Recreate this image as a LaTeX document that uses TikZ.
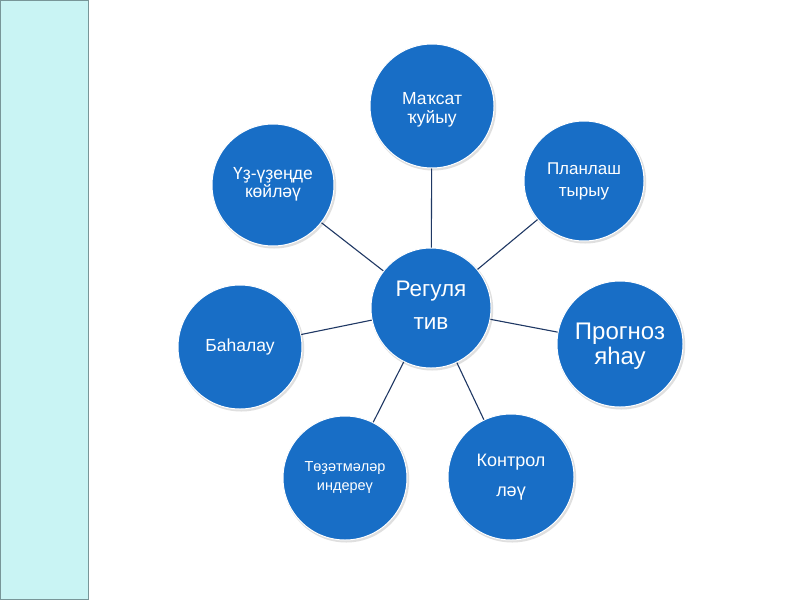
\documentclass[tikz,border=0pt]{standalone}
\usepackage{fontspec}
\setmainfont{Liberation Sans}
\definecolor{bubble}{RGB}{24,110,198}
\definecolor{link}{RGB}{31,56,100}
\definecolor{strip}{RGB}{201,244,244}
\definecolor{stripedge}{RGB}{120,150,152}
\tikzset{
  bub/.style={circle, fill=bubble, draw=white, line width=1pt, inner sep=0pt, minimum size=#1},
  bub/.default=124pt,
  lbl/.style={text=white, align=center, inner sep=0pt},
  conn/.style={draw=link, line width=1.1pt},
}
\newcommand{\fsz}[2]{\fontsize{#1}{#2}\selectfont}
\begin{document}
\begin{tikzpicture}[x=1pt,y=-1pt]
\useasboundingbox (0,0) rectangle (800,600);
\fill[white] (0,0) rectangle (800,600);
\draw[fill=strip, draw=stripedge, line width=1pt] (0.5,0.5) rectangle (88,599.5);
% shadows
\foreach \p/\r in {{(432,106)}/62,{(273,185)}/61,{(584,181)}/60,{(620,344)}/63,{(240,347)}/62,{(345,478)}/62,{(511,477)}/63,{(431,308)}/60}
  \fill[gray!25] \p ++(1.2,1.5) circle (\r+1);
\node[bub=120pt] (c) at (431,308) {};
\node[bub] (m) at (432,106) {};
\node[bub=122pt] (u) at (273,185) {};
\node[bub=120pt] (p) at (584,181) {};
\node[bub=126pt] (f) at (620,344) {};
\node[bub] (b) at (240,347) {};
\node[bub] (t) at (345,478) {};
\node[bub=126pt] (k) at (511,477) {};
\node[lbl, font=\fsz{22.5}{33}] (ct) at ([yshift=3pt]c) {Регуля\\тив};
\node[lbl, font=\fsz{17.5}{19}] (mt) at ([yshift=-4pt]m) {Маҡсат\\ҡуйыу};
\node[lbl, font=\fsz{17.5}{18}] (ut) at ([yshift=1pt]u) {Үҙ-үҙеңде\\көйләү};
\node[lbl, font=\fsz{17}{22}] (pt) at (p) {Планлаш\\тырыу};
\node[lbl, font=\fsz{24}{25}] (ft) at ([yshift=-2pt]f) {Прогноз\\яһау};
\node[lbl, font=\fsz{17.5}{20}] (bt) at (b) {Баһалау};
\node[lbl, font=\fsz{14.5}{19}] (tt) at (t) {Төҙәтмәләр\\индереү};
\node[lbl, font=\fsz{18}{30}] (kt) at (k) {Контрол\\ләү};
\foreach \n in {m,u,p,f,b,t,k}
  \draw[conn] (c) -- (\n);
\end{tikzpicture}
\end{document}
